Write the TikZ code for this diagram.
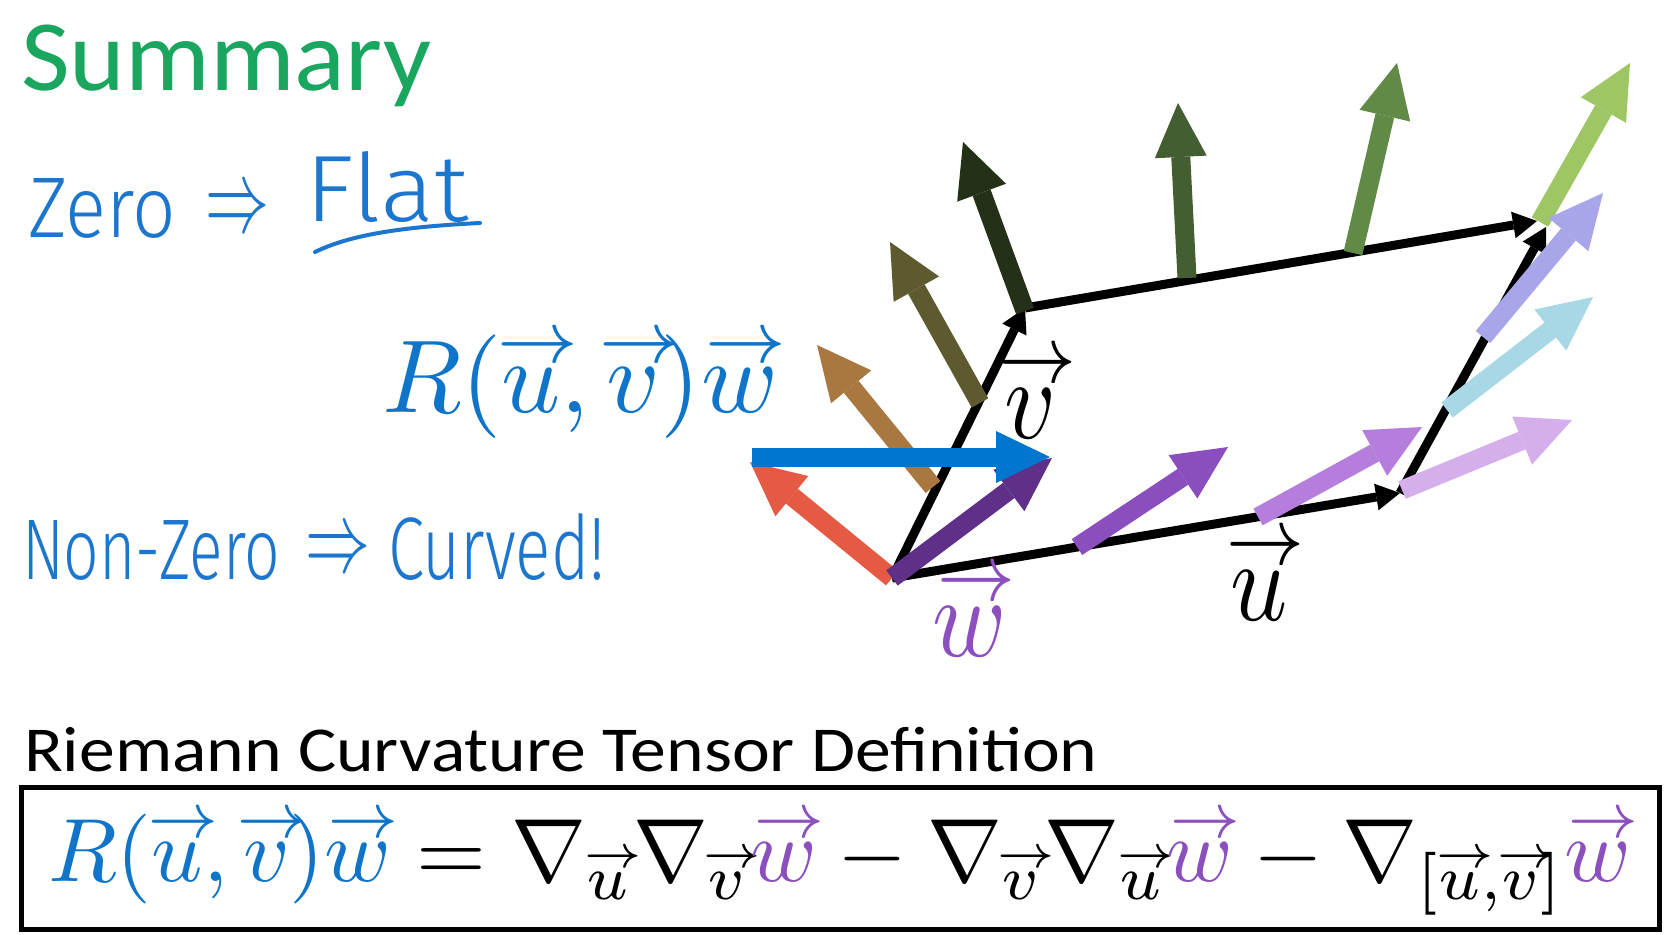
\documentclass[tikz,border=0pt]{standalone}
\usepackage{fontspec}
\usepackage{amsmath}
\usepackage{graphicx}
\setmainfont{Carlito}
\newfontfamily\hand{Fira Sans Light}
\usetikzlibrary{arrows.meta}
\makeatletter
\newcommand{\varr}[1]{\mathpalette\varr@{#1}}
\newcommand{\varr@}[2]{\mathord{\vbox{\offinterlineskip\ialign{\hfil##\hfil\cr
  \kern0.12em\hbox to0pt{\hss$\m@th\varr@small#1\rightarrow$\hss}\cr\noalign{\kern0.05em}
  $\m@th#1#2$\cr}}}}
\newcommand{\varr@small}[1]{\ifx#1\displaystyle\scriptstyle\else\ifx#1\textstyle\scriptstyle\else\scriptscriptstyle\fi\fi}
\makeatother
\definecolor{cTitle}{RGB}{27,166,96}
\definecolor{cHand}{RGB}{29,118,206}
\definecolor{cFblue}{RGB}{16,117,201}
\definecolor{cFpurple}{RGB}{140,80,190}
\definecolor{cBlue}{RGB}{0,118,206}
\definecolor{cRed}{RGB}{228,90,66}
\definecolor{cBrown}{RGB}{168,120,64}
\definecolor{cOlive}{RGB}{94,90,48}
\definecolor{cDgreen}{RGB}{36,48,24}
\definecolor{cGreenB}{RGB}{67,94,48}
\definecolor{cGreenC}{RGB}{96,138,70}
\definecolor{cLgreen}{RGB}{158,198,100}
\definecolor{cDpurple}{RGB}{94,48,136}
\definecolor{cPurple}{RGB}{138,78,190}
\definecolor{cLpurple}{RGB}{182,126,220}
\definecolor{cLavender}{RGB}{213,174,236}
\definecolor{cLblue}{RGB}{168,216,230}
\definecolor{cLavblue}{RGB}{168,166,232}
\tikzset{
  blkedge/.style={line width=9pt,-{Triangle[length=24pt,width=27pt,line width=0pt]}},
  fatarrow/.style={line width=19pt,-{Triangle[length=54pt,width=52pt,line width=0pt]}},
  txt/.style={inner sep=0pt,outer sep=0pt},
}
\begin{document}
\begin{tikzpicture}[x=1pt,y=-1pt]
\useasboundingbox (0,0) rectangle (1680,934);
\fill[white] (0,0) rectangle (1680,934);

% ---- left texts
\node[txt,anchor=base west,text=cTitle] (title) at (21,90)
  {\scalebox{1.05}[1]{\fontsize{101}{110}\selectfont Summary}};
\node[txt,anchor=base west,text=cHand] (zero) at (28,237)
  {\resizebox{148pt}{59pt}{\hand Zero}};
\node[txt,text=cHand] (imp1) at (237,212) {\resizebox*{64pt}{38pt}{$\Rightarrow$}};
\node[txt,anchor=base west,text=cHand] (flat) at (305,221)
  {\resizebox{164pt}{70pt}{\hand Flat}};
\draw[cHand,line width=4pt,line cap=round] (315,252) .. controls (350,235) and (400,227) .. (480,223);
\node[txt,anchor=base west,text=cHand] (nonzero) at (22,579)
  {\resizebox{258pt}{59pt}{\hand Non-Zero}};
\node[txt,text=cHand] (imp2) at (338,553) {\resizebox*{65pt}{37pt}{$\Rightarrow$}};
\node[txt,anchor=base west,text=cHand] (curved) at (388,579)
  {\resizebox{217pt}{66pt}{\hand Curved!}};
\node[txt,anchor=base west] (Rmid) at (382,412)
  {\resizebox{396pt}{!}{$\color{cFblue}R(\varr{u},\varr{v})\varr{w}$}};

% ---- parallelogram
\coordinate (O) at (892,578);
\coordinate (U) at (1400,493);
\coordinate (V) at (1025,308);
\coordinate (C) at (1537,221);
\coordinate (C2) at (1546,227);
\draw[blkedge] (O) -- (U);
\draw[blkedge] (O) -- (V);
\draw[blkedge] (V) -- (C);
\draw[blkedge] (U) -- (C2);

% ---- coloured arrows
\coordinate (redT) at (750,462);
\coordinate (brA) at (933,487);  \coordinate (brB) at (817,345);
\coordinate (olA) at (980,403);  \coordinate (olB) at (890,242);
\coordinate (dgA) at (1025,311); \coordinate (dgB) at (963,142);
\coordinate (g2A) at (1187,278); \coordinate (g2B) at (1178,103);
\coordinate (g3A) at (1353,253); \coordinate (g3B) at (1397,63);
\coordinate (lgA) at (1540,222); \coordinate (lgB) at (1630,63);
\coordinate (dpB) at (1052,458);
\coordinate (blA) at (752,457);  \coordinate (blB) at (1050,457);
\coordinate (puA) at (1077,547); \coordinate (puB) at (1228,447);
\coordinate (lpA) at (1258,517); \coordinate (lpB) at (1422,427);
\coordinate (lvA) at (1402,490); \coordinate (lvB) at (1572,420);
\coordinate (lbA) at (1447,410); \coordinate (lbB) at (1593,297);
\coordinate (vbA) at (1483,337); \coordinate (vbB) at (1603,193);

\draw[fatarrow,cRed] (O) -- (redT);
\draw[fatarrow,cBrown] (brA) -- (brB);
\draw[fatarrow,cOlive] (olA) -- (olB);
\draw[fatarrow,cDgreen] (dgA) -- (dgB);
\draw[fatarrow,cGreenB] (g2A) -- (g2B);
\draw[fatarrow,cGreenC] (g3A) -- (g3B);
\draw[fatarrow,cLgreen] (lgA) -- (lgB);
\draw[fatarrow,cDpurple] (O) -- (dpB);
\draw[fatarrow,cBlue] (blA) -- (blB);
\draw[fatarrow,cPurple] (puA) -- (puB);
\draw[fatarrow,cLpurple] (lpA) -- (lpB);
\draw[fatarrow,cLavender] (lvA) -- (lvB);
\draw[fatarrow,cLblue] (lbA) -- (lbB);
\draw[fatarrow,cLavblue] (vbA) -- (vbB);

% ---- vector labels
\node[txt,anchor=base] (vl) at (1031,438) {\scalebox{10}[11.5]{$\varr{v}$}};
\node[txt,anchor=base] (ul) at (1259,620) {\scalebox{10}[11.5]{$\varr{u}$}};
\node[txt,anchor=base,text=cFpurple] (wl) at (970,656) {\scalebox{10}[11.5]{$\varr{w}$}};

% ---- definition
\node[txt,anchor=base west] (riem) at (24,771)
  {\scalebox{1.12}[1]{\fontsize{64}{70}\selectfont Riemann Curvature Tensor Definition}};
\node[draw,line width=4.5pt,anchor=north west,inner sep=0pt,minimum width=1638pt,minimum height=142pt] (defbox) at (19,785) {};
\node[txt,anchor=base west] (def) at (48,881)
  {\resizebox{1583pt}{!}{$\color{cFblue}R(\varr{u},\varr{v})\varr{w}\color{black}
   =\nabla_{\varr{u}}\nabla_{\varr{v}}{\color{cFpurple}\varr{w}}
   -\nabla_{\varr{v}}\nabla_{\varr{u}}{\color{cFpurple}\varr{w}}
   -\nabla_{[\varr{u},\varr{v}]}{\color{cFpurple}\varr{w}}$}};
\end{tikzpicture}
\end{document}
